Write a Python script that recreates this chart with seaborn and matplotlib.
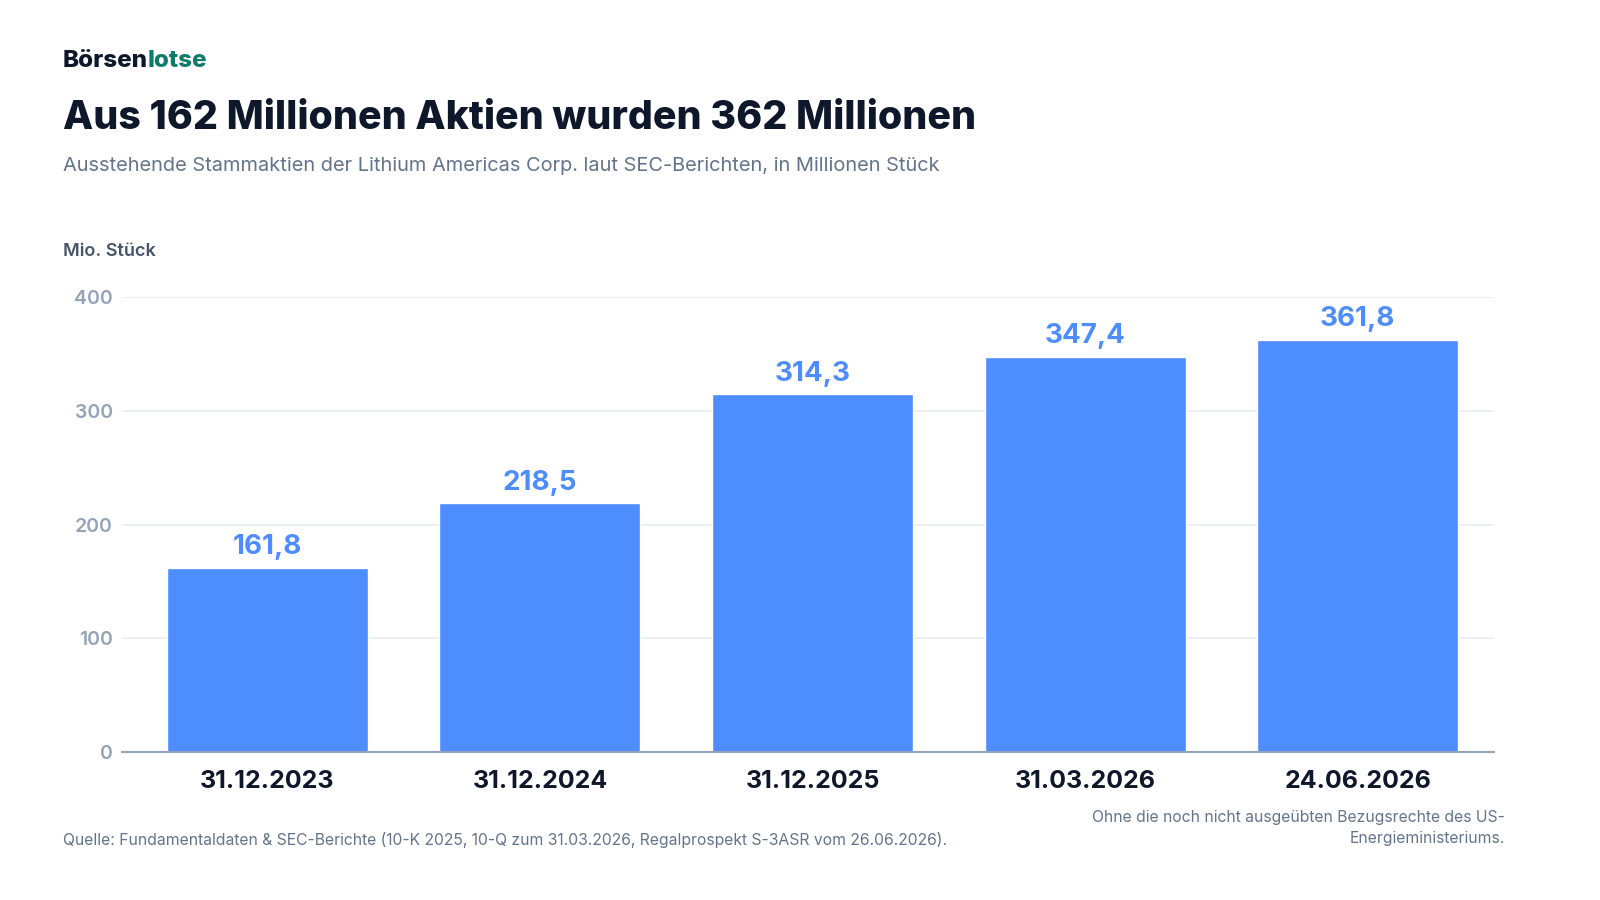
import pandas as pd
import matplotlib.pyplot as plt
import seaborn as sns

# Daten
dates = ["31.12.2023", "31.12.2024", "31.12.2025", "31.03.2026", "24.06.2026"]
shares = [161.8, 218.5, 314.3, 347.4, 361.8]
yticks = [0, 100, 200, 300, 400]

sns.set_style("white")
plt.rcParams['font.family'] = ['Inter', 'DejaVu Sans']

BLUE = "#4d8dff"
DARK = "#0f172a"
GRAY = "#64748b"
LIGHT = "#94a3b8"

df = pd.DataFrame({"datum": dates, "aktien": shares})

fig = plt.figure(figsize=(16, 9), dpi=100)
ax = fig.add_axes([0.07625, 0.1644, 0.8575, 0.5056])

sns.barplot(data=df, x="datum", y="aktien", color=BLUE, width=0.737,
            saturation=1, ax=ax, zorder=3)

for i, v in enumerate(shares):
    ax.text(i, v + 7, f"{v:.1f}".replace(".", ","), ha="center", va="bottom",
            fontsize=20, fontweight="bold", color=BLUE, clip_on=False)

ax.set_ylim(0, 400)
ax.set_xlim(-0.533, 4.5)
ax.set_yticks(yticks)
ax.set_yticklabels([str(t) for t in yticks], fontsize=14, fontweight="semibold", color=LIGHT)
ax.set_xticks(range(len(dates)))
ax.set_xticklabels(dates, fontsize=18, fontweight="bold", color=DARK)
ax.tick_params(axis="both", length=0)
ax.tick_params(axis="x", pad=13)
ax.tick_params(axis="y", pad=6.5)
ax.grid(axis="y", color="#e9edf2", linewidth=1.2, zorder=0)
ax.set_xlabel("")
ax.set_ylabel("")
for s in ["top", "right", "left"]:
    ax.spines[s].set_visible(False)
ax.spines["bottom"].set_color(LIGHT)
ax.spines["bottom"].set_linewidth(1.5)
ax.spines["bottom"].set_zorder(4)

# Kopfzeile
fig.text(0.0394, 0.932, "Börsen", fontsize=17.4, fontweight="heavy", color=DARK, va="center")
fig.canvas.draw()
bb = fig.texts[-1].get_window_extent()
fig.text(bb.x1 / 1600, 0.932, "lotse", fontsize=17.4, fontweight="heavy", color="#0f7b6c", va="center")

fig.text(0.0394, 0.868, "Aus 162 Millionen Aktien wurden 362 Millionen", fontsize=28.3,
         fontweight="heavy", color=DARK, va="center")
fig.text(0.0394, 0.816, "Ausstehende Stammaktien der Lithium Americas Corp. laut SEC-Berichten, in Millionen Stück",
         fontsize=14.4, color=GRAY, va="center")
fig.text(0.0394, 0.72, "Mio. Stück", fontsize=13, fontweight="semibold", color="#475569", va="center")

# Fußzeile
fig.text(0.0394, 0.0667, "Quelle: Fundamentaldaten & SEC-Berichte (10-K 2025, 10-Q zum 31.03.2026, Regalprospekt S-3ASR vom 26.06.2026).",
         fontsize=11.3, color=GRAY, va="center")
fig.text(0.9406, 0.08, "Ohne die noch nicht ausgeübten Bezugsrechte des US-\nEnergieministeriums.",
         fontsize=11.3, color=GRAY, va="center", ha="right", linespacing=1.55)

fig.savefig("out.png", dpi=100)
